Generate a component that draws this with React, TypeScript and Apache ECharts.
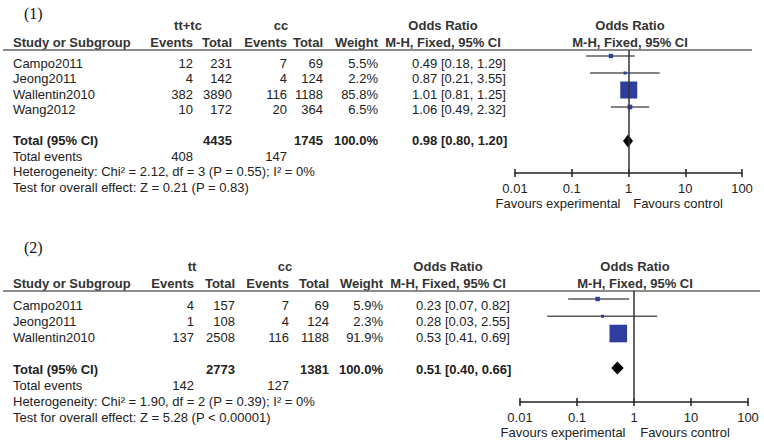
import React, { useEffect, useRef } from "react";
import * as echarts from "echarts";

// ---------- DATA ----------
const studies1 = ["Campo2011", "Jeong2011", "Wallentin2010", "Wang2012"];
const expEvents1 = [12, 4, 382, 10];
const expTotal1 = [231, 142, 3890, 172];
const ctrlEvents1 = [7, 4, 116, 20];
const ctrlTotal1 = [69, 124, 1188, 364];
const weight1 = [5.5, 2.2, 85.8, 6.5];
const or1 = [0.49, 0.87, 1.01, 1.06];
const lo1 = [0.18, 0.21, 0.81, 0.49];
const hi1 = [1.29, 3.55, 1.25, 2.32];
const pooled1 = [0.98, 0.8, 1.2];
const totals1 = [4435, 1745];
const totalEvents1 = [408, 147];
const het1 = "Heterogeneity: Chi² = 2.12, df = 3 (P = 0.55); I² = 0%";
const test1 = "Test for overall effect: Z = 0.21 (P = 0.83)";
const groups1 = ["tt+tc", "cc"];

const studies2 = ["Campo2011", "Jeong2011", "Wallentin2010"];
const expEvents2 = [4, 1, 137];
const expTotal2 = [157, 108, 2508];
const ctrlEvents2 = [7, 4, 116];
const ctrlTotal2 = [69, 124, 1188];
const weight2 = [5.9, 2.3, 91.9];
const or2 = [0.23, 0.28, 0.53];
const lo2 = [0.07, 0.03, 0.41];
const hi2 = [0.82, 2.55, 0.69];
const pooled2 = [0.51, 0.4, 0.66];
const totals2 = [2773, 1381];
const totalEvents2 = [142, 127];
const het2 = "Heterogeneity: Chi² = 1.90, df = 2 (P = 0.39); I² = 0%";
const test2 = "Test for overall effect: Z = 5.28 (P < 0.00001)";
const groups2 = ["tt", "cc"];

const tickValues = [0.01, 0.1, 1, 10, 100];
const tickLabels = ["0.01", "0.1", "1", "10", "100"];
const favoursLabels = ["Favours experimental", "Favours control"];

// ---------- LAYOUT ----------
const FONT = '"Liberation Sans", Arial, sans-serif';
const TXT = "#222";
const HEAD = "#333";

const layout1 = {
  label: "(1)", labelX: 24, labelY: 13,
  groupY: 25, headerY: 42, lineY: 50, lineX1: 3, lineX2: 752,
  rowY: [63, 78.5, 94, 109.5], totalY: 140.5, eventsY: 156, hetY: 171.5, testY: 187,
  cols: { name: 13, expEv: 193, expTot: 232, ctrlEv: 287, ctrlTot: 323, weight: 378, or: 412, groupExp: 188, groupCtrl: 281, orHead: 443, plotHead: 630 },
  grid: { left: 515, top: 50, width: 227, height: 123 },
  rowMin: -0.353, rowMax: 6.88,
  favY: 203, favExpX: 558, favCtrlX: 678,
};
const layout2 = {
  label: "(2)", labelX: 24, labelY: 247,
  groupY: 266, headerY: 283, lineY: 291, lineX1: 3, lineX2: 760,
  rowY: [305, 321, 337], totalY: 369, eventsY: 385, hetY: 401, testY: 417,
  cols: { name: 13, expEv: 194, expTot: 235, ctrlEv: 289, ctrlTot: 329, weight: 383, or: 416, groupExp: 192, groupCtrl: 285, orHead: 448, plotHead: 635 },
  grid: { left: 520, top: 291, width: 228, height: 111 },
  rowMin: -0.464, rowMax: 5.97,
  favY: 432, favExpX: 563, favCtrlX: 685,
};

const BOX_K = 1.835; // box side = k * sqrt(weight)

function txt(x: number, y: number, text: string, align = "left", bold = false, size = 13, color = TXT, family = FONT) {
  return {
    type: "text",
    x,
    y,
    silent: true,
    style: {
      text,
      fill: color,
      font: `${bold ? "bold " : ""}${size}px ${family}`,
      align,
      verticalAlign: "middle",
      textAlign: align,
      textVerticalAlign: "middle",
    },
  };
}

function panelGraphics(L: any, d: any) {
  const c = L.cols;
  const g: any[] = [];
  g.push(txt(L.labelX, L.labelY, L.label, "left", false, 16, "#111", '"Liberation Serif", "DejaVu Serif", serif'));
  g.push(txt(c.groupExp, L.groupY, d.groups[0], "center", true, 13, HEAD));
  g.push(txt(c.groupCtrl, L.groupY, d.groups[1], "center", true, 13, HEAD));
  g.push(txt(c.orHead, L.groupY, "Odds Ratio", "center", true, 13, HEAD));
  g.push(txt(c.plotHead, L.groupY, "Odds Ratio", "center", true, 13, HEAD));
  g.push(txt(c.name, L.headerY, "Study or Subgroup", "left", true, 13, HEAD));
  g.push(txt(c.expEv, L.headerY, "Events", "right", true, 13, HEAD));
  g.push(txt(c.expTot, L.headerY, "Total", "right", true, 13, HEAD));
  g.push(txt(c.ctrlEv, L.headerY, "Events", "right", true, 13, HEAD));
  g.push(txt(c.ctrlTot, L.headerY, "Total", "right", true, 13, HEAD));
  g.push(txt(c.weight, L.headerY, "Weight", "right", true, 13, HEAD));
  g.push(txt(c.orHead, L.headerY, "M-H, Fixed, 95% CI", "center", true, 13, HEAD));
  g.push(txt(c.plotHead, L.headerY, "M-H, Fixed, 95% CI", "center", true, 13, HEAD));
  g.push({
    type: "line",
    silent: true,
    shape: { x1: L.lineX1, y1: L.lineY, x2: L.lineX2, y2: L.lineY },
    style: { stroke: "#666", lineWidth: 1.5 },
  });
  d.studies.forEach((s: string, i: number) => {
    const y = L.rowY[i];
    g.push(txt(c.name, y, s));
    g.push(txt(c.expEv, y, String(d.expEvents[i]), "right"));
    g.push(txt(c.expTot, y, String(d.expTotal[i]), "right"));
    g.push(txt(c.ctrlEv, y, String(d.ctrlEvents[i]), "right"));
    g.push(txt(c.ctrlTot, y, String(d.ctrlTotal[i]), "right"));
    g.push(txt(c.weight, y, d.weight[i].toFixed(1) + "%", "right"));
    g.push(txt(c.or, y, `${d.or[i].toFixed(2)} [${d.lo[i].toFixed(2)}, ${d.hi[i].toFixed(2)}]`));
  });
  g.push(txt(c.name, L.totalY, "Total (95% CI)", "left", true));
  g.push(txt(c.expTot, L.totalY, String(d.totals[0]), "right", true));
  g.push(txt(c.ctrlTot, L.totalY, String(d.totals[1]), "right", true));
  g.push(txt(c.weight, L.totalY, "100.0%", "right", true));
  g.push(txt(c.or, L.totalY, `${d.pooled[0].toFixed(2)} [${d.pooled[1].toFixed(2)}, ${d.pooled[2].toFixed(2)}]`, "left", true));
  g.push(txt(c.name, L.eventsY, "Total events"));
  g.push(txt(c.expEv, L.eventsY, String(d.totalEvents[0]), "right"));
  g.push(txt(c.ctrlEv, L.eventsY, String(d.totalEvents[1]), "right"));
  g.push(txt(c.name, L.hetY, d.het));
  g.push(txt(c.name, L.testY, d.test));
  g.push(txt(L.favExpX, L.favY, favoursLabels[0], "center"));
  g.push(txt(L.favCtrlX, L.favY, favoursLabels[1], "center"));
  return g;
}

const panel1Data = {
  studies: studies1, expEvents: expEvents1, expTotal: expTotal1, ctrlEvents: ctrlEvents1, ctrlTotal: ctrlTotal1,
  weight: weight1, or: or1, lo: lo1, hi: hi1, pooled: pooled1, totals: totals1, totalEvents: totalEvents1,
  het: het1, test: test1, groups: groups1,
};
const panel2Data = {
  studies: studies2, expEvents: expEvents2, expTotal: expTotal2, ctrlEvents: ctrlEvents2, ctrlTotal: ctrlTotal2,
  weight: weight2, or: or2, lo: lo2, hi: hi2, pooled: pooled2, totals: totals2, totalEvents: totalEvents2,
  het: het2, test: test2, groups: groups2,
};

function axesFor(idx: number, L: any) {
  const xMain = {
    type: "log",
    logBase: 10,
    gridIndex: idx,
    min: tickValues[0],
    max: tickValues[tickValues.length - 1],
    position: "bottom",
    axisLine: { show: true, onZero: false, lineStyle: { color: "#222", width: 1.5 } },
    axisTick: { show: true, inside: false, length: 4, lineStyle: { color: "#222", width: 1.5 } },
    axisLabel: {
      show: true,
      margin: 9,
      fontSize: 13,
      fontFamily: FONT,
      color: TXT,
      formatter: (v: number) => {
        const k = tickValues.findIndex((t) => Math.abs(Math.log10(t) - Math.log10(v)) < 1e-6);
        return k >= 0 ? tickLabels[k] : "";
      },
    },
    splitLine: { show: false },
  };
  const xInner = {
    type: "log",
    logBase: 10,
    gridIndex: idx,
    min: tickValues[0],
    max: tickValues[tickValues.length - 1],
    position: "bottom",
    axisLine: { show: false, onZero: false },
    axisTick: { show: true, inside: true, length: 4, lineStyle: { color: "#222", width: 1.5 } },
    axisLabel: { show: false },
    splitLine: { show: false },
  };
  const y = {
    type: "value",
    gridIndex: idx,
    inverse: true,
    min: L.rowMin,
    max: L.rowMax,
    show: false,
  };
  return { xs: [xMain, xInner], y };
}

function studySeries(xIdx: number, yIdx: number, d: any) {
  const data = d.studies.map((_: string, i: number) => [d.or[i], d.lo[i], d.hi[i], i, d.weight[i]]);
  return {
    type: "custom",
    xAxisIndex: xIdx,
    yAxisIndex: yIdx,
    data,
    encode: { x: [0, 1, 2], y: 3 },
    clip: false,
    renderItem: (params: any, api: any) => {
      const row = api.value(3);
      const pLo = api.coord([api.value(1), row]);
      const pHi = api.coord([api.value(2), row]);
      const pMid = api.coord([api.value(0), row]);
      const side = Math.max(3, BOX_K * Math.sqrt(api.value(4)));
      return {
        type: "group",
        children: [
          {
            type: "line",
            shape: { x1: pLo[0], y1: pLo[1], x2: pHi[0], y2: pHi[1] },
            style: { stroke: "#5a5a5a", lineWidth: 1.6 },
          },
          {
            type: "rect",
            shape: { x: pMid[0] - side / 2, y: pMid[1] - side / 2, width: side, height: side },
            style: { fill: "#2f3e9e" },
          },
        ],
      };
    },
    markLine: {
      silent: true,
      symbol: ["none", "none"],
      label: { show: false },
      lineStyle: { color: "#333", width: 1.5, type: "solid" },
      data: [{ xAxis: 1 }],
    },
  };
}

function pooledSeries(xIdx: number, yIdx: number, d: any) {
  const row = d.studies.length + 1;
  return {
    type: "custom",
    xAxisIndex: xIdx,
    yAxisIndex: yIdx,
    data: [[d.pooled[0], d.pooled[1], d.pooled[2], row]],
    encode: { x: [0, 1, 2], y: 3 },
    clip: false,
    renderItem: (params: any, api: any) => {
      const r = api.value(3);
      const pLo = api.coord([api.value(1), r]);
      const pHi = api.coord([api.value(2), r]);
      const pMid = api.coord([api.value(0), r]);
      const h = 6.5;
      return {
        type: "polygon",
        shape: { points: [[pLo[0], pLo[1]], [pMid[0], pMid[1] - h], [pHi[0], pHi[1]], [pMid[0], pMid[1] + h]] },
        style: { fill: "#000" },
      };
    },
  };
}

export default function App() {
  const ref = useRef<HTMLDivElement>(null);
  useEffect(() => {
    document.body.style.margin = "0";
    if (!ref.current) return;
    const chart = echarts.init(ref.current, undefined, { renderer: "svg" });
    const a1 = axesFor(0, layout1);
    const a2 = axesFor(1, layout2);
    const option: any = {
      animation: false,
      backgroundColor: "#fff",
      grid: [
        { ...layout1.grid, containLabel: false },
        { ...layout2.grid, containLabel: false },
      ],
      xAxis: [...a1.xs, ...a2.xs],
      yAxis: [a1.y, a2.y],
      series: [
        studySeries(0, 0, panel1Data),
        pooledSeries(0, 0, panel1Data),
        studySeries(2, 1, panel2Data),
        pooledSeries(2, 1, panel2Data),
      ],
      graphic: [...panelGraphics(layout1, panel1Data), ...panelGraphics(layout2, panel2Data)],
    };
    chart.setOption(option);
    return () => chart.dispose();
  }, []);
  return <div ref={ref} style={{ width: 764, height: 443 }} />;
}
